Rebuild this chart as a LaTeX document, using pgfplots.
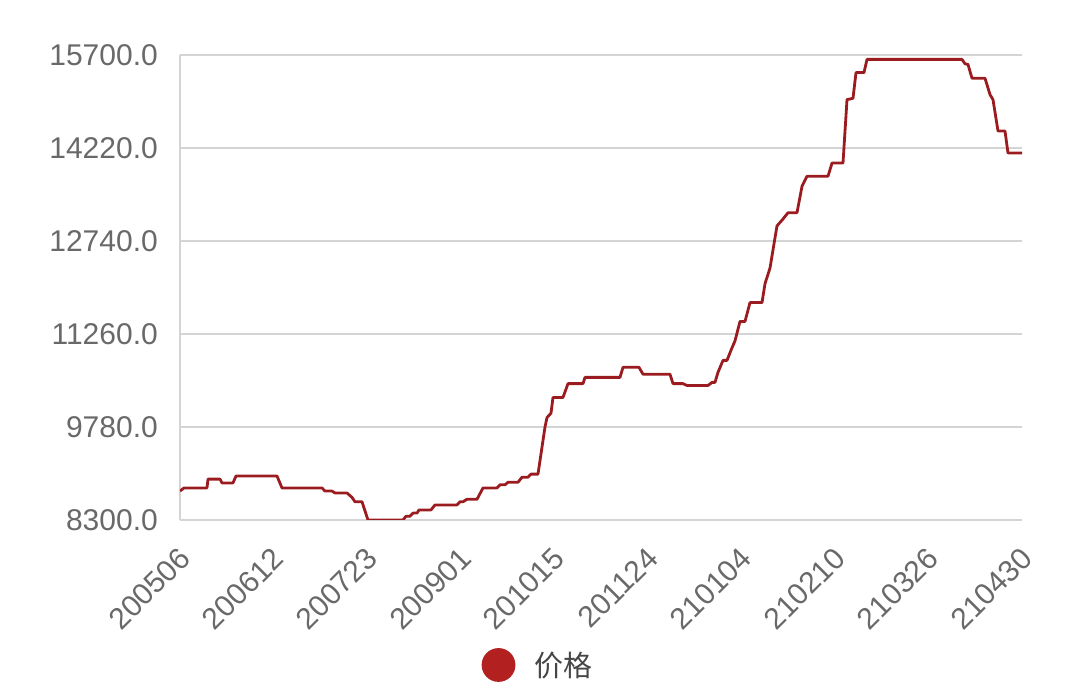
\documentclass[border=0pt]{standalone}
\usepackage{fontspec}
\setmainfont{Liberation Sans}
\newfontfamily\cjk{Noto Sans CJK SC}
\usepackage{pgfplots}
\pgfplotsset{compat=1.18}

\definecolor{pricered}{RGB}{155,28,32}
\definecolor{legendred}{RGB}{178,32,32}
\definecolor{gridgray}{RGB}{212,212,212}
\definecolor{ticktext}{RGB}{105,105,105}
\definecolor{legendtext}{RGB}{70,70,70}

\begin{document}
\begin{tikzpicture}
\useasboundingbox (-180pt,-180pt) rectangle (900pt,520pt);
\begin{axis}[
    at={(0pt,0pt)}, anchor=south west,
    scale only axis,
    width=842pt, height=465pt,
    xmin=0, xmax=842,
    ymin=8300, ymax=15700,
    axis x line*=bottom, axis y line*=left,
    axis line style={gridgray, line width=2pt},
    ymajorgrids,
    grid style={gridgray, line width=2pt},
    xtick style={draw=none}, ytick style={draw=none},
    scaled y ticks=false,
    ytick={8300,9780,11260,12740,14220,15700},
    xtick={0,93.56,187.11,280.67,374.22,467.78,561.33,654.89,748.44,842},
    xticklabels={200506,200612,200723,200901,201015,201124,210104,210210,210326,210430},
    /pgf/number format/.cd, fixed, fixed zerofill, precision=1, 1000 sep={}, assume math mode=true,
    /pgfplots/.cd,
    yticklabel style={font=\fontsize{30}{30}\selectfont, text=ticktext, inner sep=0pt, xshift=-22pt},
    xticklabel style={font=\fontsize{30}{30}\selectfont, text=ticktext, xshift=5pt, yshift=-33pt, rotate=45, anchor=east, inner sep=0pt},
    legend style={at={(axis description cs:0.358,-0.3118)}, anchor=west, draw=none, fill=none,
        inner sep=0pt, nodes={inner sep=0pt},
        font=\cjk\fontsize{29}{29}\selectfont, text=legendtext},
    legend image code/.code={\path[draw=none, fill=none] (0pt,0pt) -- (51pt,0pt);\fill[legendred] (15.5pt,0pt) circle (15.5pt);},
]
\addplot[pricered, line width=2.8pt, line join=round] coordinates {
(0,8760) (4,8810) (27,8810) (28,8950) (40,8950) (42,8890) (53,8890) (56,9000)
(97,9000) (102,8810) (142,8810) (145,8760) (152,8760) (155,8730) (167,8730)
(172,8660) (175,8590) (182,8590) (188,8300) (223,8300) (226,8360) (230,8360)
(233,8410) (237,8410) (239,8460) (251,8460) (255,8540) (277,8540) (280,8590)
(283,8590) (287,8630) (297,8630) (303,8810) (317,8810) (320,8860) (325,8860)
(328,8900) (338,8900) (342,8980) (348,8980) (351,9030) (358,9030) (365,9780)
(367,9930) (371,10000) (373,10250) (383,10250) (388,10470) (403,10470)
(405,10570) (440,10570) (443,10730) (459,10730) (463,10620) (490,10620)
(493,10470) (503,10470) (507,10440) (528,10440) (532,10490) (535,10490)
(538,10650) (543,10840) (547,10840) (552,11040) (555,11150) (560,11460)
(565,11460) (570,11760) (582,11760) (585,12060) (590,12310) (597,12980)
(603,13090) (608,13190) (617,13190) (622,13610) (627,13770) (648,13770)
(652,13980) (663,13980) (667,14990) (673,15010) (676,15420) (684,15420)
(687,15630) (782,15630) (785,15560) (788,15550) (792,15330) (805,15330)
(810,15070) (813,14990) (818,14490) (825,14490) (828,14140) (842,14140)
};
\addlegendentry{价格}
\end{axis}
\end{tikzpicture}
\end{document}
